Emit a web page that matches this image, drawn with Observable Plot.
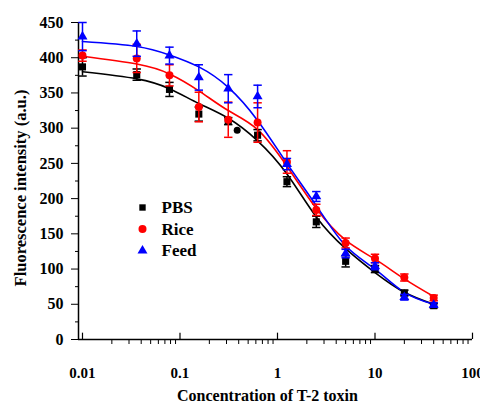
<!DOCTYPE html>
<html>
<head>
<meta charset="utf-8">
<script src="https://cdn.jsdelivr.net/npm/d3@7"></script>
<script src="https://cdn.jsdelivr.net/npm/@observablehq/plot@0.6"></script>
<style>
  html, body { margin: 0; padding: 0; background: #fff; }
</style>
</head>
<body>
<div id="chart"></div>
<script>
// ---- data ----
const concentrations = [0.01, 0.036, 0.078, 0.156, 0.3125, 0.625, 1.25, 2.5, 5, 10, 20, 40];

const pbsValues  = [387, 376, 355, 320, 310, 290, 224, 167, 111, 100, 66, 48];
const pbsErrors  = [13, 8, 10, 10, 5, 8, 7, 8, 8, 5, 4, 3];
const riceValues = [403, 399, 375, 330, 312, 308, 252, 184, 137, 115, 88, 59];
const riceErrors = [8, 20, 15, 21, 25, 28, 16, 8, 7, 6, 5, 4];
const feedValues = [430, 420, 403, 372, 356, 345, 249, 203, 122, 104, 60, 49];
const feedErrors = [20, 18, 12, 18, 20, 16, 8, 7, 6, 5, 4, 3];

// fitted curves at the same concentrations
const pbsCurve  = [380, 370, 356, 335, 314, 282, 235, 174, 129, 95, 67, 50];
const riceCurve = [402, 391, 377, 353, 325, 298, 246, 186, 141, 114, 86, 61];
const feedCurve = [423, 416, 404, 387, 358, 311, 250, 190, 133, 100, 67, 50];

// stray marker on the PBS curve
const pbsExtraX = [0.386];
const pbsExtraY = [297];

const seriesNames = ["PBS", "Rice", "Feed"];
const seriesColors = ["#000000", "#ff0000", "#0000ff"];
const seriesSymbols = ["square", "circle", "triangle"];

const xTickValues = [0.01, 0.1, 1, 10, 100];
const xTickLabels = ["0.01", "0.1", "1", "10", "100"];
const xMinorTicks = [0.02,0.03,0.04,0.05,0.06,0.07,0.08,0.09,
                     0.2,0.3,0.4,0.5,0.6,0.7,0.8,0.9,
                     2,3,4,5,6,7,8,9,
                     20,30,40,50,60,70,80,90];
const yTickValues = [0, 50, 100, 150, 200, 250, 300, 350, 400, 450];
const yMinorTicks = [25, 75, 125, 175, 225, 275, 325, 375, 425];

const xLabel = "Concentration of T-2 toxin";
const yLabel = "Fluorescence intensity (a.u.)";

// ---- build tables ----
const valueSets = [pbsValues, riceValues, feedValues];
const errorSets = [pbsErrors, riceErrors, feedErrors];
const curveSets = [pbsCurve, riceCurve, feedCurve];

const points = [];
const curves = [];
seriesNames.forEach((s, si) => {
  concentrations.forEach((c, i) => {
    points.push({series: s, x: c, v: valueSets[si][i], e: errorSets[si][i]});
    curves.push({series: s, x: c, v: curveSets[si][i]});
  });
});
const extra = pbsExtraX.map((x, i) => ({x, v: pbsExtraY[i]}));

const capSymbol = {
  draw(ctx, size) { const w = 4.2; ctx.moveTo(-w, 0); ctx.lineTo(w, 0); }
};

const font = "'Liberation Serif', 'Times New Roman', serif";
const xMin = 0.0091;

const marks = [];
// axes
marks.push(Plot.axisY({ticks: yTickValues, tickSize: 7, tickPadding: 8, label: null, tickFormat: d => String(d),
  fontSize: 16, fontWeight: "bold", fontFamily: font}));
marks.push(Plot.axisY({ticks: yMinorTicks, tickSize: 3, tickFormat: () => "", label: null}));
marks.push(Plot.axisX({ticks: xTickValues, tickSize: 0, tickPadding: 28, label: null,
  tickFormat: d => xTickLabels[xTickValues.indexOf(d)], fontSize: 15, fontWeight: "bold", fontFamily: font}));
marks.push(Plot.axisX({ticks: xMinorTicks, tickSize: 5, tickFormat: () => "", label: null}));
marks.push(Plot.ruleX(xTickValues, {x: d => d, y1: 0, y2: 9, stroke: "black", strokeWidth: 1.2}));
marks.push(Plot.ruleY([0], {stroke: "black", strokeWidth: 1.5}));
marks.push(Plot.ruleX([xMin], {stroke: "black", strokeWidth: 1.5}));

// curves
seriesNames.forEach((s, si) => {
  marks.push(Plot.line(curves.filter(d => d.series === s), {
    x: "x", y: "v", stroke: seriesColors[si], strokeWidth: 1.6, curve: "natural"
  }));
});
// error bars + markers
seriesNames.forEach((s, si) => {
  const data = points.filter(d => d.series === s);
  marks.push(Plot.ruleX(data, {x: "x", y1: d => d.v - d.e, y2: d => d.v + d.e, stroke: seriesColors[si], strokeWidth: 1.5}));
  marks.push(Plot.dot(data, {x: "x", y: d => d.v + d.e, symbol: capSymbol, r: 4, stroke: seriesColors[si], strokeWidth: 1.5, fill: "none"}));
  marks.push(Plot.dot(data, {x: "x", y: d => d.v - d.e, symbol: capSymbol, r: 4, stroke: seriesColors[si], strokeWidth: 1.5, fill: "none"}));
  marks.push(Plot.dot(data, {x: "x", y: "v", symbol: seriesSymbols[si], r: si === 2 ? 3.7 : 4, fill: seriesColors[si], stroke: "none"}));
});
marks.push(Plot.dot(extra, {x: "x", y: "v", symbol: "circle", r: 3.5, fill: "#000"}));

// legend
seriesNames.forEach((s, si) => {
  marks.push(Plot.dot([s], {frameAnchor: "top-left", dx: 64, dy: 185 + 21.6 * si,
    symbol: seriesSymbols[si], r: si === 0 ? 3.6 : si === 2 ? 3.7 : 4, fill: seriesColors[si]}));
  marks.push(Plot.text([s], {frameAnchor: "top-left", dx: 83, dy: 185 + 21.6 * si, text: d => d,
    textAnchor: "start", lineAnchor: "middle", fontSize: 17, fontWeight: "bold", fontFamily: font, fill: "black"}));
});

// axis titles
marks.push(Plot.text([xLabel], {frameAnchor: "bottom", dx: -8, dy: 56, text: d => d,
  textAnchor: "middle", lineAnchor: "middle",
  fontSize: 16, fontWeight: "bold", fontFamily: font, fill: "black"}));
marks.push(Plot.text([yLabel], {frameAnchor: "left", dx: -58, dy: 7, rotate: -90, text: d => d,
  textAnchor: "middle", lineAnchor: "middle",
  fontSize: 16.5, fontWeight: "bold", fontFamily: font, fill: "black"}));

const chart = Plot.plot({
  width: 480,
  height: 405,
  marginLeft: 78,
  marginRight: 8,
  marginTop: 22,
  marginBottom: 66,
  x: {type: "log", domain: [xMin, 100]},
  y: {domain: [0, 450]},
  style: {fontFamily: font, fontWeight: "bold", fontSize: "14px", background: "white", color: "black", overflow: "visible"},
  marks
});
document.getElementById("chart").appendChild(chart);
</script>
</body>
</html>
